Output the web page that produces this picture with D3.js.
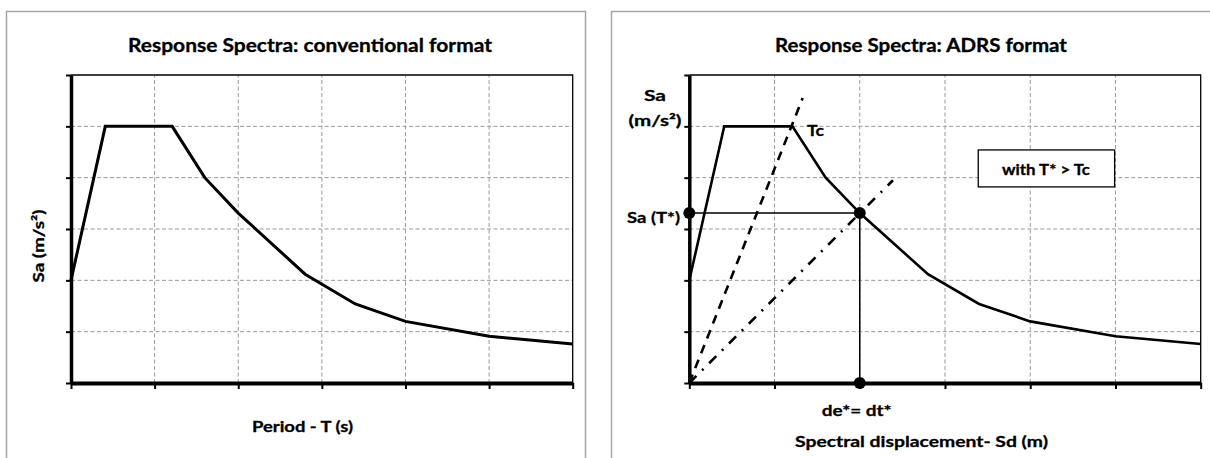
<!DOCTYPE html>
<html><head><meta charset="utf-8">
<script src="https://cdn.jsdelivr.net/npm/d3@7"></script>
<style>
body{margin:0;background:#fff}
svg text{font-family:Lato,"Open Sans",sans-serif;font-weight:bold;fill:#000;stroke:#000;stroke-width:0.3px}
</style>
</head><body>
<svg id="c" width="1210" height="458"></svg>
<script>
// ---- data ----
const periods      = [0, 0.41, 1.21, 1.6, 2.0, 2.8, 3.4, 4.0, 5.0, 6.0];
const spectralAcc  = [2, 5, 5, 4, 3.31, 2.12, 1.54, 1.2, 0.91, 0.76];
const gridTicks    = [0, 1, 2, 3, 4, 5, 6];
const tcLineX      = [0, 1.33];
const tcLineY      = [0, 5.55];
const tStarLineX   = [0, 2.39];
const tStarLineY   = [0, 3.95];
const targetPoint  = [2.0, 3.31];
const noteBoxX     = [3.39, 4.99];
const noteBoxY     = [3.82, 4.54];
const titles       = ["Response Spectra:  conventional format", "Response Spectra: ADRS format"];
const xTitles      = ["Period - T (s)", "Spectral  displacement- Sd (m)"];

const svg = d3.select("#c");

// panel frames
svg.append("rect").attr("x",6.5).attr("y",11.5).attr("width",579).attr("height",470)
  .attr("fill","none").attr("stroke","#a6a6a6").attr("stroke-width",1.5);
svg.append("rect").attr("x",611.5).attr("y",11.5).attr("width",620).attr("height",470)
  .attr("fill","none").attr("stroke","#a6a6a6").attr("stroke-width",1.5);

function panel(x, y, curveWidth){
  const g = svg.append("g");
  const data = periods.map((p,i)=>[p, spectralAcc[i]]);
  // grid
  gridTicks.slice(1,-1).forEach(t=>{
    g.append("line").attr("x1",x(t)).attr("x2",x(t)).attr("y1",y(0)).attr("y2",y(6))
      .attr("stroke","#999").attr("stroke-width",1).attr("stroke-dasharray","4,2.5");
    g.append("line").attr("y1",y(t)).attr("y2",y(t)).attr("x1",x(0)).attr("x2",x(6))
      .attr("stroke","#999").attr("stroke-width",1).attr("stroke-dasharray","4,2.5");
  });
  // plot border top/right
  g.append("path").attr("d",`M${x(0)},${y(6)}H${x(6)}V${y(0)}`)
    .attr("fill","none").attr("stroke","#000").attr("stroke-width",1.3);
  // curve
  g.append("path").datum(data)
    .attr("d", d3.line().x(d=>x(d[0])).y(d=>y(d[1])))
    .attr("fill","none").attr("stroke","#000").attr("stroke-width",curveWidth)
    .attr("stroke-linejoin","miter");
  // axes
  const ax = g.append("g").attr("transform",`translate(0,${y(0)})`)
    .call(d3.axisBottom(x).tickValues(gridTicks).tickSize(6).tickSizeOuter(0).tickFormat(""));
  ax.selectAll("text").remove();
  ax.select(".domain").attr("stroke-width",4);
  ax.selectAll(".tick line").attr("stroke-width",2);
  const ay = g.append("g").attr("transform",`translate(${x(0)},0)`)
    .call(d3.axisLeft(y).tickValues(gridTicks).tickSize(5).tickSizeOuter(0).tickFormat(""));
  ay.selectAll("text").remove();
  ay.select(".domain").attr("stroke-width",3.5);
  ay.selectAll(".tick line").attr("stroke-width",2);
  return g;
}

function label(txt, x0, y0, len, size, opts={}){
  const t = svg.append("text").attr("x",x0).attr("y",y0).attr("font-size",size)
    .attr("text-anchor",opts.anchor||"middle").text(txt);
  if(len) t.attr("textLength",len).attr("lengthAdjust","spacingAndGlyphs");
  if(opts.rotate) t.attr("transform",`rotate(-90,${x0},${y0})`);
  return t;
}

// ---- left panel ----
const xL = d3.scaleLinear().domain([0,6]).range([71,572.7]);
const yS = d3.scaleLinear().domain([0,6]).range([383,75]);
panel(xL, yS, 3);
label(titles[0], 310, 52, 364, 18.5);
label(xTitles[0], 302.5, 432, 101, 15.5);
label("Sa (m/s²)", 44, 246, 73, 15.5, {rotate:true});

// ---- right panel ----
const xR = d3.scaleLinear().domain([0,6]).range([689.3,1200.7]);
const gR = panel(xR, yS, 2.6);

// Tc line (dashed) and T* line (dash-dot)
gR.append("line").attr("x1",xR(tcLineX[0])).attr("y1",yS(tcLineY[0]))
  .attr("x2",xR(tcLineX[1])).attr("y2",yS(tcLineY[1]))
  .attr("stroke","#000").attr("stroke-width",2.6).attr("stroke-dasharray","9,7");
gR.append("line").attr("x1",xR(tStarLineX[0])).attr("y1",yS(tStarLineY[0]))
  .attr("x2",xR(tStarLineX[1])).attr("y2",yS(tStarLineY[1]))
  .attr("stroke","#000").attr("stroke-width",2.6).attr("stroke-dasharray","10,8,2,8");
// projection lines
gR.append("path")
  .attr("d",`M${xR(0)},${yS(targetPoint[1])}H${xR(targetPoint[0])}V${yS(0)}`)
  .attr("fill","none").attr("stroke","#000").attr("stroke-width",1.5);
// points
[[0,targetPoint[1]],[targetPoint[0],targetPoint[1]],[targetPoint[0],0]].forEach(p=>{
  gR.append("circle").attr("cx",xR(p[0])).attr("cy",yS(p[1])).attr("r",6).attr("fill","#000");
});
// note box
gR.append("rect").attr("x",xR(noteBoxX[0])).attr("y",yS(noteBoxY[1]))
  .attr("width",xR(noteBoxX[1])-xR(noteBoxX[0])).attr("height",yS(noteBoxY[0])-yS(noteBoxY[1]))
  .attr("fill","#fff").attr("stroke","#000").attr("stroke-width",1.3);
label("with T* > Tc", (xR(noteBoxX[0])+xR(noteBoxX[1]))/2 - 0.5, 174.5, 88, 14.5);

label(titles[1], 921, 52, 292, 18.5);
label(xTitles[1], 921.5, 447, 253, 15.5);
label("Sa", 655, 100.5, 22, 15.5);
label("(m/s²)", 655, 125.5, 53, 15.5);
label("Sa (T*)", 653.5, 222.5, 53, 15.5);
label("Tc", 815.5, 135.5, 17, 15.5);
label("de*= dt*", 856.7, 416, 70, 15.5);
</script>
</body></html>
